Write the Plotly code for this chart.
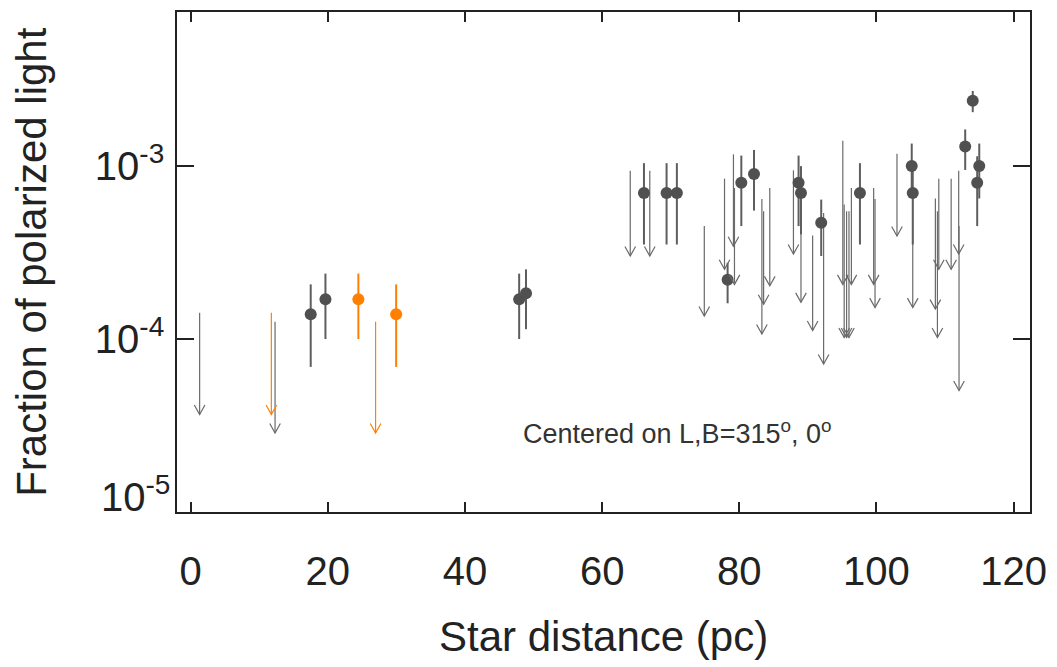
import plotly.graph_objects as go

# ---------------- data ----------------
# detections (gray)
det_x = [17.5, 19.65, 47.9, 48.9, 66.1, 69.4, 70.9, 78.3, 80.3, 82.15,
         88.65, 89.0, 91.95, 97.6, 105.15, 105.3, 112.95, 114.05, 114.7, 115.0]
det_y = [1.39e-4, 1.70e-4, 1.70e-4, 1.84e-4, 7.0e-4, 7.0e-4, 7.0e-4, 2.2e-4, 8.0e-4, 9.0e-4,
         8.0e-4, 7.0e-4, 4.7e-4, 7.0e-4, 1.0e-3, 7.0e-4, 1.30e-3, 2.39e-3, 8.0e-4, 1.0e-3]
det_hi = [2.07e-4, 2.39e-4, 2.39e-4, 2.53e-4, 1.04e-3, 1.04e-3, 1.04e-3, 2.76e-4, 1.15e-3, 1.24e-3,
          1.15e-3, 1.0e-3, 6.4e-4, 1.04e-3, 1.35e-3, 1.0e-3, 1.63e-3, 2.72e-3, 1.14e-3, 1.35e-3]
det_lo = [6.9e-5, 1.0e-4, 1.0e-4, 1.14e-4, 3.52e-4, 3.52e-4, 3.52e-4, 1.61e-4, 4.5e-4, 5.53e-4,
          4.5e-4, 4.03e-4, 3.02e-4, 3.52e-4, 7.0e-4, 3.52e-4, 9.5e-4, 2.05e-3, 4.5e-4, 6.5e-4]

# detections (orange)
odet_x = [24.45, 29.96]
odet_y = [1.70e-4, 1.39e-4]
odet_hi = [2.39e-4, 2.07e-4]
odet_lo = [1.0e-4, 6.9e-5]

# upper limits (gray): x, top of arrow, arrow tip
lim_x = [1.3, 12.3, 64.1, 66.95, 74.9, 77.85, 79.15, 79.3, 83.3, 83.55,
         84.45, 87.9, 89.0, 90.7, 92.3, 95.1, 95.3, 95.65, 96.0, 96.35,
         99.6, 99.8, 103.0, 105.3, 108.6, 108.9, 109.1, 110.9, 112.0, 112.05]
lim_top = [1.42e-4, 1.26e-4, 9.4e-4, 9.4e-4, 4.5e-4, 8.46e-4, 1.17e-3, 7.47e-4, 6.46e-4, 5.48e-4,
           7.47e-4, 9.45e-4, 7.6e-4, 3.97e-4, 5.36e-4, 1.40e-3, 6.0e-4, 5.48e-4, 5.48e-4, 7.47e-4,
           7.47e-4, 6.46e-4, 1.18e-3, 7.0e-4, 6.5e-4, 5.48e-4, 8.46e-4, 8.46e-4, 9.4e-4, 4.5e-4]
lim_tip = [3.66e-5, 2.86e-5, 3.02e-4, 3.02e-4, 1.36e-4, 2.53e-4, 3.44e-4, 2.07e-4, 1.07e-4, 1.59e-4,
           2.03e-4, 3.1e-4, 1.63e-4, 1.12e-4, 7.18e-5, 2.07e-4, 1.02e-4, 1.02e-4, 1.02e-4, 2.07e-4,
           2.07e-4, 1.52e-4, 3.94e-4, 1.52e-4, 1.49e-4, 1.02e-4, 2.53e-4, 2.53e-4, 3.1e-4, 5.04e-5]

# upper limits (orange)
olim_x = [11.76, 26.96]
olim_top = [1.42e-4, 1.26e-4]
olim_tip = [3.66e-5, 2.86e-5]

x_ticks = [0, 20, 40, 60, 80, 100, 120]
y_ticks = [1e-5, 1e-4, 1e-3]
y_ticktext = ["", "10<sup>-4</sup>", "10<sup>-3</sup>"]
y_label_bottom = "10<sup>-5</sup>"

x_title = "Star distance (pc)"
y_title = "Fraction of polarized light"
note = "Centered on L,B=315<sup>o</sup>, 0<sup>o</sup>"

GRAY_PT = "#505050"
GRAY_ERR = "#5e5e5e"
GRAY_ARR = "#6a6a6a"
ORANGE = "#ff8000"
TXT = "#222222"
FONT = "Liberation Sans, Arial, Helvetica, sans-serif"

fig = go.Figure()


def shafts(xs, tops, tips):
    xx, yy = [], []
    for x, t, b in zip(xs, tops, tips):
        xx += [x, x, None]
        yy += [t, b, None]
    return xx, yy


for xs, tops, tips, col in [(lim_x, lim_top, lim_tip, GRAY_ARR),
                            (olim_x, olim_top, olim_tip, ORANGE)]:
    xx, yy = shafts(xs, tops, tips)
    fig.add_trace(go.Scatter(x=xx, y=yy, mode="lines",
                             line=dict(color=col, width=1.2),
                             hoverinfo="skip", showlegend=False))

shapes = []
for xs, tips, col in [(lim_x, lim_tip, GRAY_ARR), (olim_x, olim_tip, ORANGE)]:
    for x, b in zip(xs, tips):
        shapes.append(dict(type="path", xref="x", yref="y",
                           xsizemode="pixel", ysizemode="pixel",
                           xanchor=x, yanchor=b,
                           path="M-5.3,9.5L0,0L5.3,9.5",
                           line=dict(color=col, width=1.2), layer="above"))


def err(ys, his, los):
    return dict(type="data", symmetric=False,
                array=[h - y for y, h in zip(ys, his)],
                arrayminus=[y - l for y, l in zip(ys, los)],
                thickness=2.0, width=0)


e = err(det_y, det_hi, det_lo)
e["color"] = GRAY_ERR
fig.add_trace(go.Scatter(x=det_x, y=det_y, mode="markers",
                         marker=dict(color=GRAY_PT, size=12),
                         error_y=e, hoverinfo="skip", showlegend=False))
e = err(odet_y, odet_hi, odet_lo)
e["color"] = ORANGE
fig.add_trace(go.Scatter(x=odet_x, y=odet_y, mode="markers",
                         marker=dict(color=ORANGE, size=12),
                         error_y=e, hoverinfo="skip", showlegend=False))

annotations = [
    dict(text=note, x=71.0, y=-4.54, xref="x", yref="y", showarrow=False,
         xanchor="center", yanchor="middle",
         font=dict(size=27, color="#333333", family=FONT)),
    dict(text=x_title, x=0.5, y=637, xref="paper", yref="paper", showarrow=False,
         xanchor="center", yanchor="middle",
         font=dict(size=42, color=TXT, family=FONT)),
    dict(text=y_title, x=0, y=0.5, xref="paper", yref="paper", showarrow=False,
         textangle=-90, xanchor="center", yanchor="middle",
         font=dict(size=42, color=TXT, family=FONT)),
    dict(text=y_label_bottom, x=0, y=-5, xref="paper", yref="y", showarrow=False,
         xanchor="right", yanchor="middle", xshift=-5, yshift=18,
         font=dict(size=40, color=TXT, family=FONT)),
]

L, R, T, B = 177, 22, 10, 155
W, H = 1057, 667
pw, ph = W - L - R, H - T - B
# convert pixel targets of titles into paper coordinates
annotations[1]["y"] = (H - B - 637) / ph
annotations[2]["x"] = (30 - L) / pw

fig.update_layout(
    width=W, height=H,
    margin=dict(l=L, r=R, t=T, b=B, pad=0),
    paper_bgcolor="white", plot_bgcolor="white",
    font=dict(family=FONT, color=TXT),
    shapes=shapes, annotations=annotations,
    xaxis=dict(range=[-2, 122.4], tickvals=x_ticks, ticks="inside", ticklen=10,
               tickwidth=1.5, tickcolor=TXT, showline=True, linecolor=TXT, linewidth=1.5,
               mirror="ticks", showgrid=False, zeroline=False,
               tickfont=dict(size=40, color=TXT, family=FONT), ticklabelstandoff=23),
    yaxis=dict(type="log", range=[-5, -2.109], tickvals=y_ticks, ticktext=y_ticktext,
               ticks="inside", ticklen=17, tickwidth=1.5, tickcolor=TXT,
               showline=True, linecolor=TXT, linewidth=1.5, mirror="ticks",
               showgrid=False, zeroline=False,
               tickfont=dict(size=40, color=TXT, family=FONT), ticklabelstandoff=3),
)

fig.write_html("out.html")
